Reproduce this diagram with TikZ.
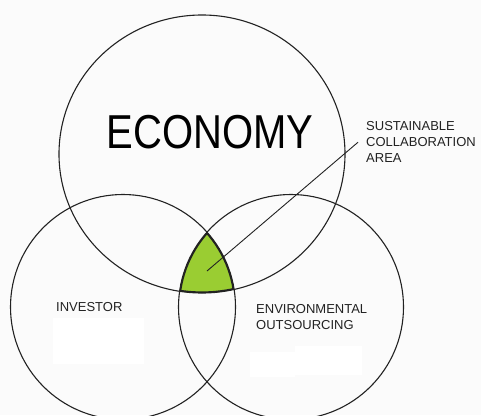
\documentclass[tikz,border=0pt]{standalone}
\usepackage{fontspec}
\usepackage{graphicx}
\setmainfont{Liberation Sans}
\definecolor{paper}{HTML}{FBFBFB}
\definecolor{leaf}{HTML}{9ACD32}
\definecolor{ink}{HTML}{222222}
\begin{document}
\begin{tikzpicture}[x=1pt,y=-1pt,
  ring/.style={draw=ink,line width=1.1pt},
  label/.style={font=\fontsize{13}{16}\selectfont,text=ink,inner sep=0pt,anchor=north west,align=left}]
% canvas
\fill[paper] (0,0) rectangle (481,415);
\useasboundingbox (0,0) rectangle (481,415);
% blank boxes under the side labels
\fill[white] (53,318) rectangle (144,364);
\fill[white] (250,352) rectangle (295,377);
\fill[white] (295,346) rectangle (362,375);
% circle centres
\coordinate (eco) at (202,154);
\coordinate (inv) at (123,307);
\coordinate (env) at (291,307);
% shared region of the three circles, with a heavier rim
\begin{scope}
  \clip (eco) ellipse [x radius=143, y radius=139];
  \clip (inv) circle [radius=112.5];
  \clip (env) circle [radius=112.5];
  \fill[leaf] (0,0) rectangle (481,415);
  \draw[ink,line width=3.2pt] (eco) ellipse [x radius=143, y radius=139];
  \draw[ink,line width=3.2pt] (inv) circle [radius=112.5];
  \draw[ink,line width=3.2pt] (env) circle [radius=112.5];
\end{scope}
% the three circles
\draw[ring] (eco) ellipse [x radius=143, y radius=139];
\draw[ring] (inv) circle [radius=112.5];
\draw[ring] (env) circle [radius=112.5];
% labels
\node[inner sep=0pt,text=black] (economy) at (210,132)
  {\scalebox{1}[1.19]{\fontsize{40}{40}\selectfont ECONOMY}};
\node[label] (area) at (366,121.5) {SUSTAINABLE\\COLLABORATION\\AREA};
\node[label] (investor) at (56,302) {INVESTOR};
\node[label] (outsourcing) at (256,304) {ENVIRONMENTAL\\OUTSOURCING};
% pointer into the shared region
\coordinate (tip) at (207,271);
\draw[ink,line width=0.9pt] (tip) -- ([xshift=-8pt]area.west);
\end{tikzpicture}
\end{document}
